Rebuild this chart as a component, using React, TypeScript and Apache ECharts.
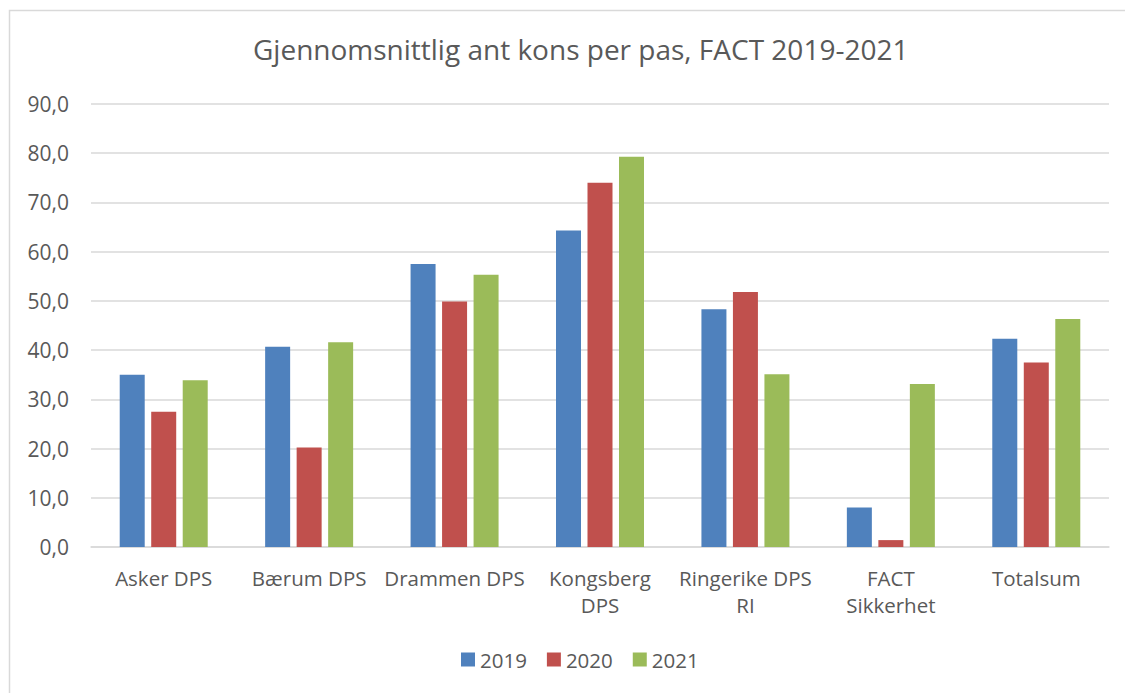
import React, { useEffect, useRef } from "react";
import * as echarts from "echarts";

const title = "Gjennomsnittlig ant kons per pas, FACT 2019-2021";
const categories = [
  "Asker DPS",
  "Bærum DPS",
  "Drammen DPS",
  "Kongsberg\nDPS",
  "Ringerike DPS\nRI",
  "FACT\nSikkerhet",
  "Totalsum",
];
const seriesNames = ["2019", "2020", "2021"];
const values2019 = [35.0, 40.7, 57.5, 64.3, 48.3, 8.0, 42.3];
const values2020 = [27.5, 20.2, 49.9, 74.0, 51.8, 1.4, 37.5];
const values2021 = [33.9, 41.6, 55.3, 79.3, 35.1, 33.1, 46.3];
const colors = ["#4F81BD", "#C0504D", "#9BBB59"];
const yTicks = { min: 0, max: 90, interval: 10 };

const FONT = "'Open Sans', 'Noto Sans', sans-serif";
const TXT = "#595959";

export default function App() {
  const ref = useRef<HTMLDivElement>(null);
  useEffect(() => {
    if (!ref.current) return;
    const chart = echarts.init(ref.current, undefined, { renderer: "svg" });
    const data = [values2019, values2020, values2021];
    chart.setOption({
      animation: false,
      backgroundColor: "#ffffff",
      textStyle: { fontFamily: FONT, color: TXT },
      title: {
        text: title,
        left: 248,
        top: 30,
        textStyle: { fontFamily: FONT, fontSize: 28, fontWeight: "normal", color: TXT },
      },
      graphic: [
        {
          type: "rect",
          shape: { x: 9.5, y: 10.5, width: 1300, height: 900 },
          style: { fill: "none", stroke: "#D9D9D9", lineWidth: 1.5 },
          silent: true,
          z: -1,
        },
      ],
      legend: {
        bottom: 18,
        left: 456,
        itemWidth: 14,
        itemHeight: 14,
        itemGap: 20,
        icon: "rect",
        textStyle: { fontFamily: FONT, fontSize: 20.5, color: TXT },
        data: seriesNames,
      },
      grid: { left: 91, right: 16, top: 104, bottom: 146, containLabel: false },
      xAxis: {
        type: "category",
        data: categories,
        axisLine: { lineStyle: { color: "#D9D9D9", width: 1.5 } },
        axisTick: { show: false },
        axisLabel: {
          fontFamily: FONT,
          fontSize: 20.5,
          color: TXT,
          margin: 17,
          lineHeight: 27,
          interval: 0,
        },
      },
      yAxis: {
        type: "value",
        min: yTicks.min,
        max: yTicks.max,
        interval: yTicks.interval,
        axisLine: { show: false },
        axisTick: { show: false },
        splitLine: { lineStyle: { color: "#D9D9D9", width: 1.5 } },
        axisLabel: {
          fontFamily: FONT,
          fontSize: 21,
          color: TXT,
          margin: 22,
          formatter: (v: number) => v.toFixed(1).replace(".", ","),
        },
      },
      series: seriesNames.map((name, i) => ({
        name,
        type: "bar",
        data: data[i],
        barWidth: 25,
        barGap: "26%",
        itemStyle: { color: colors[i] },
      })),
    });
    return () => chart.dispose();
  }, []);
  return (
    <div
      ref={ref}
      style={{ position: "absolute", left: 0, top: 0, width: 1125, height: 693 }}
    />
  );
}
